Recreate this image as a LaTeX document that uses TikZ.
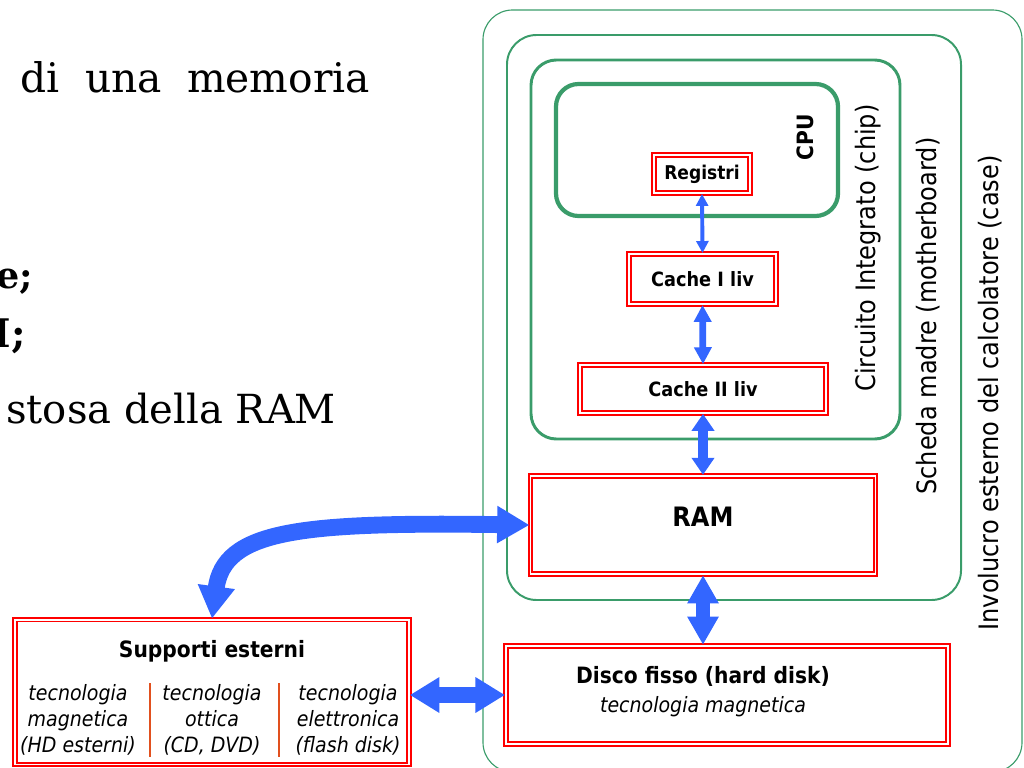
\documentclass[tikz,border=0pt]{standalone}
\usepackage{fontspec}
\setmainfont{DejaVu Sans}[FakeStretch=0.9]
\newfontfamily\slidefont{DejaVu Serif}
\usetikzlibrary{arrows.meta}

\definecolor{boxgreen}{RGB}{58,156,106}
\definecolor{memred}{RGB}{255,0,0}
\definecolor{busblue}{RGB}{51,102,255}
\definecolor{sepred}{RGB}{225,80,30}

\begin{document}
\begin{tikzpicture}[x=0.025cm,y=-0.025cm]
  \tikzstyle{memory}=[draw=memred,double=white,double distance=1.3pt,line width=1.4pt,fill=white,inner sep=0pt]
  \tikzstyle{slide}=[anchor=base east,font=\slidefont\fontsize{29}{35}\selectfont]
  \tikzstyle{layer}=[rotate=90,font=\fontsize{19}{23}\selectfont]
  \tikzstyle{bus}=[busblue]
  \useasboundingbox (0,0) rectangle (1024,768);

  % text of the slide behind
  \node[slide] (line1) at (375,93) {di\hspace{0.3em} una\hspace{0.3em} memoria};
  \node[slide,font=\slidefont\bfseries\fontsize{26}{32}\selectfont] (line2) at (38,288) {e;};
  \node[slide,font=\slidefont\bfseries\fontsize{28}{34}\selectfont] (line3) at (31,347) {M;};
  \node[slide,font=\slidefont\fontsize{28.5}{34}\selectfont] (line4) at (341,423) {stosa della RAM};

  % case, motherboard, chip, cpu
  \draw[boxgreen,line width=0.8pt,rounded corners=21pt] (483,10) rectangle (1022,772);
  \draw[boxgreen,line width=1.4pt,rounded corners=21pt] (507,35) rectangle (961,600);
  \draw[boxgreen,line width=2.1pt,rounded corners=18pt] (531,60) rectangle (900,439);
  \draw[boxgreen,line width=3pt,rounded corners=16pt] (556,84) rectangle (838,216);

  \node[rotate=90,font=\bfseries\fontsize{16}{19}\selectfont] (cpu) at (805,137) {CPU};
  \node[layer] (chip) at (868,248) {Circuito Integrato (chip)};
  \node[layer] (mb) at (928,316) {Scheda madre (motherboard)};
  \node[layer] (case) at (990,393) {Involucro esterno del calcolatore (case)};

  % memories
  \node[memory,minimum width=68pt,minimum height=27pt,font=\bfseries\fontsize{13.5}{16}\selectfont] (reg) at (702,174) {Registri};
  \node[memory,minimum width=104.6pt,minimum height=35.6pt,font=\bfseries\fontsize{14}{17}\selectfont] (c1) at (702.5,279) {Cache I liv};
  \node[memory,minimum width=175pt,minimum height=34pt,font=\bfseries\fontsize{14}{17}\selectfont] (c2) at (703,389) {Cache II liv};
  \node[memory,minimum width=245.4pt,minimum height=70pt] (ram) at (703,525) {};
  \node[font=\bfseries\fontsize{19}{23}\selectfont] (ramlbl) at (703,517) {RAM};

  \node[memory,minimum width=314.4pt,minimum height=70pt] (disk) at (727,695) {};
  \node[font=\bfseries\fontsize{16}{19}\selectfont] (disklbl) at (703,676) {Disco fisso (hard disk)};
  \node[font=\itshape\fontsize{15}{18}\selectfont] (disktec) at (703,707) {tecnologia magnetica};

  \node[memory,minimum width=280pt,minimum height=103pt] (ext) at (212,692) {};
  \node[font=\bfseries\fontsize{16}{19}\selectfont] (extlbl) at (212,651) {Supporti esterni};
  \node[align=center,font=\itshape\fontsize{15}{18.4}\selectfont] (mag) at (78,720) {tecnologia\\magnetica\\(HD esterni)};
  \node[align=center,font=\itshape\fontsize{15}{18.4}\selectfont] (opt) at (212,720) {tecnologia\\ottica\\(CD, DVD)};
  \node[align=center,font=\itshape\fontsize{15}{18.4}\selectfont] (ele) at (348,720) {tecnologia\\elettronica\\(flash disk)};
  \draw[sepred,line width=0.8pt] (150,683) -- (150,757);
  \draw[sepred,line width=0.8pt] (279,683) -- (279,757);

  % transfers between levels
  \draw[bus,line width=2.8pt,{Triangle[width=8.5pt,length=8.5pt]}-{Triangle[width=8.5pt,length=8.5pt]}] (reg.south) -- (c1.north);
  \draw[bus,line width=4.8pt,{Triangle[width=12pt,length=12pt]}-{Triangle[width=12pt,length=12pt]}] (c1.south) -- (c2.north);
  \draw[bus,line width=7.5pt,{Triangle[width=15.5pt,length=12pt]}-{Triangle[width=15.5pt,length=12pt]}] (c2.south) -- (ram.north);
  \draw[bus,line width=10.5pt,{Triangle[width=21pt,length=20pt]}-{Triangle[width=21pt,length=20pt]}] (ram.south) -- (ram.south |- disk.north);
  \draw[bus,line width=12pt,{Triangle[width=24pt,length=21pt]}-{Triangle[width=24pt,length=21pt]}] (ext.east |- disk.west) -- (disk.west);
  \draw[bus,line width=12pt,{Triangle[width=25pt,length=23pt]}-{Triangle[width=25pt,length=23pt]}] (ram.west) .. controls (300,522) and (224,530) .. (ext.north);
\end{tikzpicture}
\end{document}
